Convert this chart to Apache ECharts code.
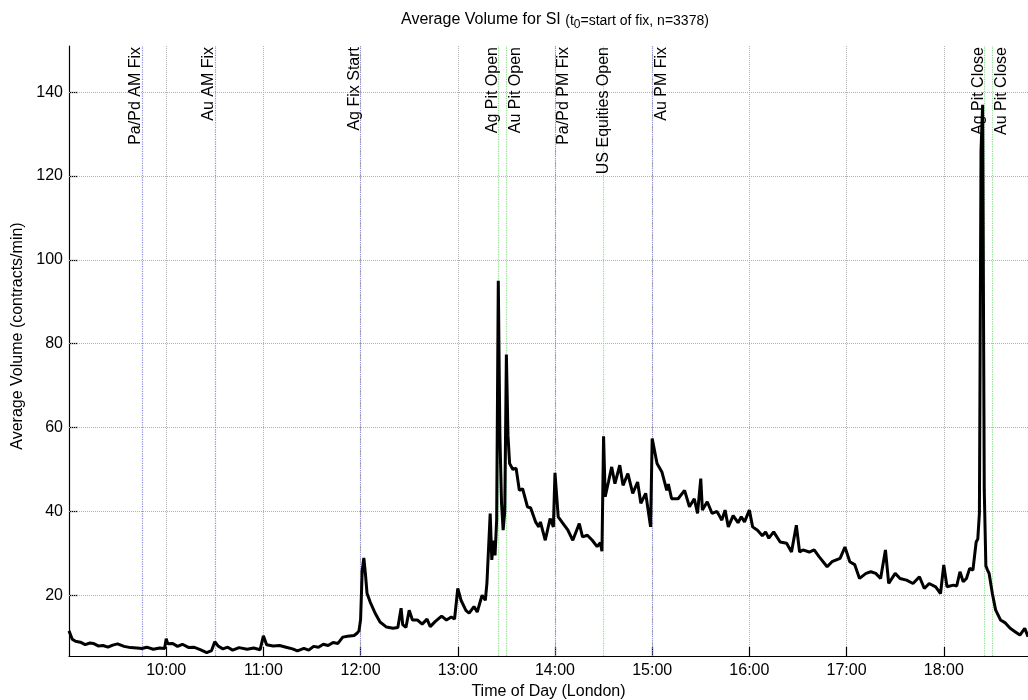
<!DOCTYPE html>
<html><head><meta charset="utf-8">
<script src="https://cdn.jsdelivr.net/npm/echarts@6/dist/echarts.min.js"></script>
<style>html,body{margin:0;padding:0;background:#fff}#c{width:1028px;height:700px}</style>
</head><body><div id="c"></div>
<script>
// ---- data ----
const times = ['09:00','09:01','09:02','09:04','09:07','09:10','09:13','09:15','09:18','09:21','09:24','09:27','09:30','09:34','09:38','09:42','09:45','09:48','09:52','09:56','09:59',
'10:00','10:01','10:04','10:07','10:10','10:14','10:17','10:21','10:25','10:28','10:30','10:32','10:35','10:38','10:41','10:45','10:50','10:54','10:58',
'11:00','11:02','11:06','11:10','11:14','11:18','11:21','11:25','11:28','11:31','11:34','11:37','11:40','11:43','11:46','11:49','11:52','11:56','11:58','11:59',
'12:00','12:01','12:02','12:03','12:04','12:06','12:09','12:12','12:16','12:20','12:23','12:25','12:26','12:28','12:30','12:32','12:35','12:38','12:41','12:43','12:46','12:50','12:53','12:56','12:58',
'13:00','13:02','13:05','13:07','13:10','13:12','13:15','13:17','13:18','13:19','13:20','13:21','13:22','13:23','13:24','13:25','13:26','13:27','13:28','13:29','13:30','13:31','13:32','13:34','13:36','13:38','13:40','13:43','13:45','13:48','13:50','13:51','13:54','13:57','13:59',
'14:00','14:02','14:05','14:08','14:11','14:15','14:17','14:20','14:23','14:26','14:28','14:29','14:30','14:31','14:33','14:35','14:37','14:40','14:42','14:45','14:48','14:51','14:53','14:56','14:59',
'15:00','15:03','15:06','15:09','15:10','15:12','15:16','15:20','15:23','15:26','15:28','15:30','15:31','15:34','15:37','15:40','15:43','15:45','15:47','15:50','15:53','15:55','15:57',
'16:00','16:02','16:05','16:08','16:10','16:12','16:15','16:19','16:23','16:26','16:29','16:31','16:33','16:37','16:40','16:43','16:48','16:51','16:56','16:59',
'17:02','17:05','17:08','17:12','17:15','17:18','17:21','17:24','17:26','17:30','17:33','17:37','17:41','17:45','17:48','17:51','17:55','17:58',
'18:00','18:02','18:06','18:08','18:10','18:12','18:14','18:16','18:18','18:20','18:21','18:22','18:23','18:24','18:25','18:26','18:27','18:28','18:30','18:32','18:35','18:38','18:41','18:44','18:47','18:50','18:52'];
const volume = [11.5,10.5,9.5,9.0,8.8,8.2,8.6,8.5,7.9,8.0,7.6,8.1,8.4,7.8,7.5,7.4,7.3,7.6,7.1,7.4,7.3,
9.6,8.4,8.5,7.8,8.3,7.5,7.6,7.0,6.3,6.8,8.9,7.9,7.2,7.6,6.9,7.5,7.1,7.4,7.0,
10.3,8.2,7.9,8.0,7.6,7.2,6.7,7.3,6.9,7.8,7.6,8.3,8.0,8.7,8.5,10.0,10.2,10.4,11.0,11.5,
14.2,25.8,28.9,25.0,20.4,18.3,15.7,13.6,12.4,12.1,12.3,16.9,13.0,12.3,16.4,14.1,14.1,13.1,14.3,12.5,13.7,15.0,14.1,14.8,14.3,
21.6,18.8,16.4,15.7,17.3,16.0,20.0,18.8,22.9,23.0,39.5,28.4,33.0,29.5,38.0,95.0,58.0,42.0,35.5,40.0,77.4,58.0,51.4,50.0,50.3,45.0,45.4,41.1,40.8,37.5,36.3,37.5,33.1,38.3,36.3,
49.2,38.7,37.1,35.5,33.1,37.1,33.9,34.3,33.1,31.6,32.5,30.5,57.9,43.5,47.0,50.6,46.6,51.0,46.2,49.0,44.3,47.0,41.9,44.3,36.3,
57.4,51.4,49.4,45.0,46.5,43.0,43.0,45.0,41.1,43.0,39.5,47.8,40.3,42.3,39.5,40.0,37.9,40.3,36.3,39.0,37.3,38.7,37.5,
40.3,36.3,35.5,34.2,35.1,33.6,35.1,32.7,32.4,30.3,36.7,30.3,30.8,30.3,30.8,29.2,26.8,28.0,28.8,31.5,
28.0,27.3,24.0,25.2,25.6,25.2,24.0,30.8,22.8,25.2,24.0,23.6,22.8,24.4,21.6,22.8,22.0,20.4,
27.2,22.0,22.4,22.2,25.6,23.2,24.0,26.4,26.0,32.7,33.4,39.5,126.0,137.0,45.0,27.0,26.0,25.2,20.4,16.5,14.1,13.4,12.1,11.3,10.5,12.1,10.1];
const yTicks = [20, 40, 60, 80, 100, 120, 140];
const eventNames = ['Pa/Pd AM Fix','Au AM Fix','Ag Fix Start','Ag Pit Open','Au Pit Open','Pa/Pd PM Fix','US Equities Open','Au PM Fix','Ag Pit Close','Au Pit Close'];
const eventTimes = ['09:45','10:30','12:00','13:25','13:30','14:00','14:30','15:00','18:25','18:30'];
const eventKinds = ['fix','fix','fix','pit','pit','fix','pit','fix','pit','pit'];

// ---- styling ----
const FONT = 'Liberation Sans, Arial, Helvetica, sans-serif';
function toMin(s){ const p = s.split(':'); return (+p[0])*60 + (+p[1]); }
function fmt(m){ const h = Math.floor(m/60), mm = m%60; return h + ':' + (mm<10?'0':'') + mm; }
const kindColor = { fix: '#8c8cdc', pit: '#8fdc8f' };
// which side of its line each event label sits on
const labelPlacement = {
  'Pa/Pd AM Fix': ['insideEndTop', [1, -2]],
  'Au AM Fix': ['insideEndTop', [1, -2]],
  'Ag Fix Start': ['insideEndTop', [1, -2]],
  'Ag Pit Open': ['insideEndTop', [1, -2]],
  'Au Pit Open': ['insideEndBottom', [1, 1]],
  'Pa/Pd PM Fix': ['insideEndBottom', [1, 1]],
  'US Equities Open': ['insideEnd', [1, 0]],
  'Au PM Fix': ['insideEndBottom', [1, 1]],
  'Ag Pit Close': ['insideEndTop', [1, -2]],
  'Au Pit Close': ['insideEndBottom', [1, 1]]
};

const lineData = times.map((t,i)=>[toMin(t), volume[i]]);
const normal = {fontFamily: FONT, color: '#000', fontWeight: 'normal', verticalAlign: 'bottom'};

const chart = echarts.init(document.getElementById('c'), null, {renderer:'canvas'});
chart.setOption({
  animation: false,
  backgroundColor: '#fff',
  title: {
    text: '{a|Average Volume for SI }{b|(t}{c|0}{b|=start of fix, n=3378)}',
    left: 396, top: 7,
    textStyle: {
      fontWeight: 'normal',
      rich: {
        a: Object.assign({fontSize: 16, padding: [0,0,3,0]}, normal),
        b: Object.assign({fontSize: 14, padding: [0,0,3,0]}, normal),
        c: Object.assign({fontSize: 12, padding: [0,0,0,0]}, normal)
      }
    }
  },
  grid: {left: 69, right: 0, top: 46, bottom: 44, containLabel: false, outerBoundsMode: 'none'},
  xAxis: {
    type: 'value', min: 540, max: 1132, interval: 60,
    name: 'Time of Day (London)', nameLocation: 'middle', nameGap: 27,
    nameTextStyle: {fontFamily: FONT, fontSize: 16, color: '#000'},
    axisLine: {show: true, lineStyle: {color: '#000', width: 1.2}},
    axisTick: {show: true, inside: true, length: 9, lineStyle: {color: '#000', width: 1.2}},
    axisLabel: {fontFamily: FONT, fontSize: 16, color: '#000', margin: 7, showMaxLabel: false, showMinLabel: false,
      formatter: v => (v === 540 || v % 60 !== 0) ? '' : fmt(v)},
    splitLine: {show: true, lineStyle: {color: '#b0b0b0', type: 'dotted', width: 1}}
  },
  yAxis: {
    type: 'value', min: 5.5, max: 151,
    name: 'Average Volume (contracts/min)', nameLocation: 'middle', nameGap: 42,
    nameTextStyle: {fontFamily: FONT, fontSize: 16, color: '#000', padding: [0, 0, 0, 30]},
    axisLine: {show: true, lineStyle: {color: '#000', width: 1.2}},
    axisTick: {show: true, inside: true, length: 9, customValues: yTicks, lineStyle: {color: '#000', width: 1.2}},
    axisLabel: {fontFamily: FONT, fontSize: 16, color: '#000', margin: 6, customValues: yTicks},
    splitLine: {show: false}
  },
  series: [
    {
      type: 'line', data: [], z: 1, silent: true,
      markLine: {
        z: 1,
        silent: true, symbol: ['none','none'], animation: false,
        data: yTicks.map(v => ({yAxis: v, lineStyle: {color: '#b0b0b0', type: 'dotted', width: 1}, label: {show: false}}))
          .concat(eventNames.map((n,i) => ({
            xAxis: toMin(eventTimes[i]),
            lineStyle: {color: kindColor[eventKinds[i]], type: 'dotted', width: 1.2},
            label: {show: true, formatter: n, position: labelPlacement[n][0], distance: labelPlacement[n][1],
                    fontFamily: FONT, fontSize: 16, color: '#000'}
          })))
      }
    },
    {
      type: 'line', data: lineData, z: 3, showSymbol: false, symbol: 'none',
      lineStyle: {color: '#000', width: 3}, itemStyle: {color: '#000'}
    }
  ]
});
</script>
</body></html>
